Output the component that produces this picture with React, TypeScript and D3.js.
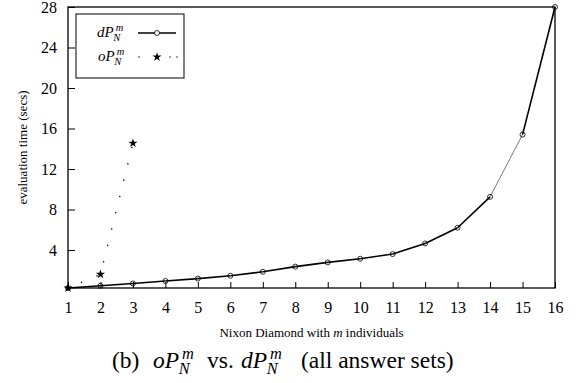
import { useEffect, useRef } from "react";
import * as d3 from "d3";

// individuals m
const dpX = [1, 2, 3, 4, 5, 6, 7, 8, 9, 10, 11, 12, 13, 14, 15, 16];
// dP_N^m evaluation time (secs)
const dpY = [0.25, 0.47, 0.7, 0.94, 1.18, 1.46, 1.85, 2.36, 2.78, 3.14, 3.6, 4.65, 6.2, 9.25, 15.4, 28];
// oP_N^m evaluation time (secs)
const opX = [1, 2, 3];
const opY = [0.25, 1.6, 14.55];
const yTicks = [4, 8, 12, 16, 20, 24, 28];
const xTicks = [1, 2, 3, 4, 5, 6, 7, 8, 9, 10, 11, 12, 13, 14, 15, 16];

const FONT = "'Liberation Serif', 'DejaVu Serif', serif";

// italic symbol with m superscript and N subscript, sup/sub placed right after the base
function mathSym(sel, x, y, base, size) {
  const s = size * 0.7;
  const b = sel.append("text").attr("x", x).attr("y", y)
    .style("font-family", FONT).style("font-size", size + "px").style("font-style", "italic").text(base);
  const w = b.node().getComputedTextLength();
  const supX = x + w + size * 0.08;
  sel.append("text").attr("x", supX + 1).attr("y", y - size * 0.4)
    .style("font-family", FONT).style("font-size", s + "px").style("font-style", "italic").text("m");
  sel.append("text").attr("x", supX - size * 0.1).attr("y", y + size * 0.25)
    .style("font-family", FONT).style("font-size", s + "px").style("font-style", "italic").text("N");
}

function Chart() {
  const ref = useRef(null);
  useEffect(() => {
    const root = d3.select(ref.current);
    root.selectAll("*").remove();
    const svg = root.append("svg").attr("width", 579).attr("height", 383);

    const left = 68, right = 555, top = 7, bottom = 288;
    const x = d3.scaleLinear().domain([1, 16]).range([left, right]);
    const y = d3.scaleLinear().domain([0.25, 28]).range([bottom, top]);

    // ticks (inward)
    const gx = svg.append("g").attr("transform", `translate(0,${bottom})`)
      .call(d3.axisBottom(x).tickValues(xTicks).tickSizeInner(-6).tickSizeOuter(0).tickPadding(14).tickFormat(d3.format("d")));
    const gy = svg.append("g").attr("transform", `translate(${left},0)`)
      .call(d3.axisLeft(y).tickValues(yTicks).tickSizeInner(-7).tickSizeOuter(0).tickPadding(11).tickFormat(d3.format("d")));
    [gx, gy].forEach(g => {
      g.select(".domain").remove();
      g.selectAll("line").attr("stroke", "#000").attr("stroke-width", 1);
      g.selectAll("text").style("font-family", FONT).style("font-size", "16px").attr("fill", "#000");
    });

    // frame
    svg.append("rect").attr("x", left).attr("y", top).attr("width", right - left).attr("height", bottom - top)
      .attr("fill", "none").attr("stroke", "#000").attr("stroke-width", 1.3);

    // dP line, segment by segment
    const dp = dpX.map((d, i) => [d, dpY[i]]);
    d3.pairs(dp).forEach(([a, b], i) => {
      const thin = i === 13;
      svg.append("line")
        .attr("x1", x(a[0])).attr("y1", y(a[1])).attr("x2", x(b[0])).attr("y2", y(b[1]))
        .attr("stroke", thin ? "#555" : "#000").attr("stroke-width", thin ? 0.8 : 1.6);
    });
    svg.selectAll(".dpm").data(dp).enter().append("circle")
      .attr("cx", d => x(d[0])).attr("cy", d => y(d[1])).attr("r", 2.5)
      .attr("fill", "none").attr("stroke", "#000").attr("stroke-width", 0.8);

    // oP dotted line
    const op = opX.map((d, i) => [d, opY[i]]);
    svg.append("path").datum(op)
      .attr("d", d3.line().x(d => x(d[0])).y(d => y(d[1])))
      .attr("fill", "none").attr("stroke", "#000").attr("stroke-width", 1.3)
      .attr("stroke-dasharray", "1.3,15.5").attr("stroke-dashoffset", -14);
    const star = d3.symbol().type(d3.symbolStar).size(26);
    svg.selectAll(".opm").data(op).enter().append("path")
      .attr("transform", d => `translate(${x(d[0])},${y(d[1])})`)
      .attr("d", star).attr("fill", "#000");

    // legend
    svg.append("rect").attr("x", 76).attr("y", 14).attr("width", 108).attr("height", 64)
      .attr("fill", "#fff").attr("stroke", "#000").attr("stroke-width", 1);
    mathSym(svg, 97, 37, "dP", 15);
    svg.append("line").attr("x1", 138).attr("x2", 176).attr("y1", 33).attr("y2", 33)
      .attr("stroke", "#000").attr("stroke-width", 1.3);
    svg.append("circle").attr("cx", 157).attr("cy", 33).attr("r", 2.5)
      .attr("fill", "#fff").attr("stroke", "#000").attr("stroke-width", 0.8);
    mathSym(svg, 98, 61, "oP", 15);
    [139, 170, 177].forEach(px => svg.append("circle").attr("cx", px).attr("cy", 57).attr("r", 0.7).attr("fill", "#000"));
    svg.append("path").attr("transform", "translate(157,57)").attr("d", star).attr("fill", "#000");

    // axis titles
    svg.append("text").attr("transform", `translate(27,${(top + bottom) / 2}) rotate(-90)`)
      .attr("text-anchor", "middle").style("font-family", FONT).style("font-size", "13px")
      .text("evaluation time (secs)");
    const xl = svg.append("text").attr("x", (left + right) / 2).attr("y", 337)
      .attr("text-anchor", "middle").style("font-family", FONT).style("font-size", "13px");
    xl.append("tspan").text("Nixon Diamond with ");
    xl.append("tspan").style("font-style", "italic").text("m");
    xl.append("tspan").text(" individuals");

    // caption
    const cy = 368;
    const plain = (tx, txt) => svg.append("text").attr("x", tx).attr("y", cy)
      .style("font-family", FONT).style("font-size", "23.5px").text(txt);
    plain(112, "(b)");
    mathSym(svg, 153, cy, "oP", 23.5);
    plain(207, "vs.");
    mathSym(svg, 241, cy, "dP", 23.5);
    plain(301, "(all answer sets)");
  }, []);
  return <div ref={ref} style={{ position: "absolute", left: 0, top: 0, width: 579, height: 383 }} />;
}

export default function App() {
  return <Chart />;
}
